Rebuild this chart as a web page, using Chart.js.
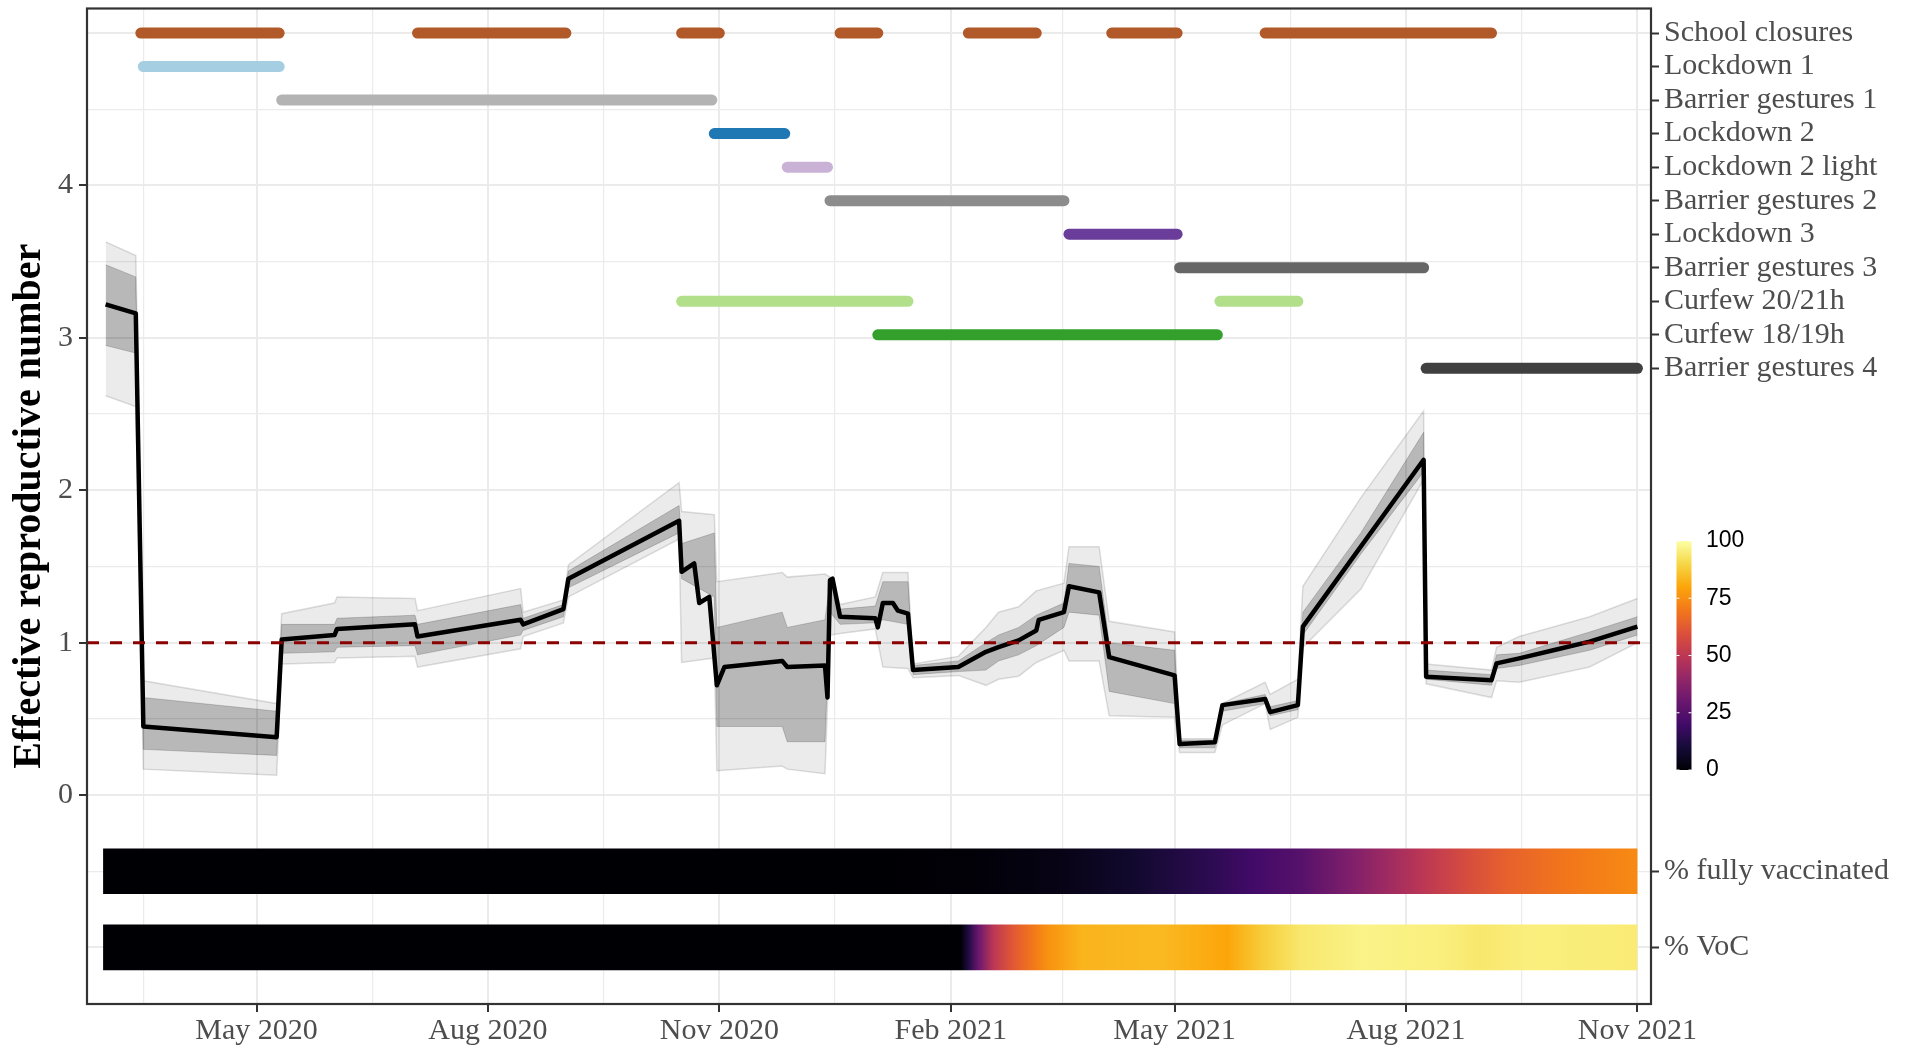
<!DOCTYPE html>
<html><head><meta charset="utf-8">
<script src="https://cdn.jsdelivr.net/npm/chart.js@4.4.0/dist/chart.umd.min.js"></script>
<style>html,body{margin:0;padding:0;background:#fff;}#wrap{width:1915px;height:1049px;}</style>
</head><body><div id="wrap"><canvas id="c" width="1915" height="1049"></canvas></div>
<script>
// ---------- DATA ----------
const rtDates = ['2020-03-02','2020-03-14','2020-03-17','2020-05-09','2020-05-11','2020-06-01','2020-06-02','2020-07-03','2020-07-04','2020-08-14','2020-08-15','2020-08-31','2020-09-02','2020-10-16','2020-10-17','2020-10-22','2020-10-24','2020-10-28','2020-10-31','2020-11-03','2020-11-26','2020-11-28','2020-12-13','2020-12-14','2020-12-15','2020-12-16','2020-12-19','2021-01-02','2021-01-03','2021-01-05','2021-01-09','2021-01-11','2021-01-15','2021-01-17','2021-02-04','2021-02-15','2021-02-20','2021-02-28','2021-03-07','2021-03-08','2021-03-18','2021-03-20','2021-04-01','2021-04-05','2021-05-01','2021-05-03','2021-05-17','2021-05-20','2021-06-06','2021-06-08','2021-06-19','2021-06-21','2021-08-08','2021-08-09','2021-09-04','2021-09-06','2021-09-15','2021-09-29','2021-10-13','2021-11-01'];
const rtMedian = [3.22,3.16,0.45,0.38,1.02,1.05,1.09,1.12,1.04,1.15,1.12,1.22,1.42,1.80,1.465,1.52,1.26,1.30,0.72,0.84,0.88,0.84,0.85,0.64,1.41,1.42,1.17,1.16,1.10,1.26,1.26,1.21,1.19,0.82,0.84,0.94,0.97,1.015,1.08,1.15,1.20,1.37,1.33,0.905,0.785,0.335,0.346,0.59,0.63,0.544,0.59,1.105,2.20,0.776,0.754,0.864,0.897,0.952,1.007,1.105];

// envelope of the simulation ensemble (outer = min/max, inner = dense core)
const envDates = ['2020-03-02','2020-03-14','2020-03-17','2020-05-09','2020-05-11','2020-06-01','2020-06-02','2020-07-03','2020-07-04','2020-08-14','2020-08-15','2020-08-31','2020-09-02','2020-10-16','2020-10-17','2020-10-30','2020-10-31','2020-11-26','2020-11-28','2020-12-13','2020-12-15','2020-12-19','2021-01-02','2021-01-05','2021-01-15','2021-01-17','2021-02-04','2021-02-15','2021-02-20','2021-02-28','2021-03-07','2021-03-18','2021-03-20','2021-04-01','2021-04-05','2021-05-01','2021-05-03','2021-05-17','2021-05-20','2021-06-06','2021-06-08','2021-06-19','2021-06-21','2021-07-14','2021-08-08','2021-08-09','2021-09-04','2021-09-06','2021-09-15','2021-10-13','2021-11-01'];
const envOuterHi = [3.63,3.54,0.75,0.60,1.19,1.26,1.30,1.29,1.21,1.355,1.20,1.28,1.51,2.05,1.86,1.84,1.40,1.46,1.43,1.45,1.43,1.25,1.30,1.46,1.46,0.86,0.91,1.10,1.20,1.235,1.34,1.39,1.63,1.63,1.14,1.07,0.37,0.37,0.60,0.74,0.66,0.76,1.37,1.95,2.52,0.86,0.82,0.97,1.04,1.17,1.29];
const envOuterLo = [2.62,2.55,0.17,0.13,0.86,0.87,0.90,0.91,0.84,0.96,1.04,1.13,1.30,1.68,0.87,0.90,0.16,0.19,0.17,0.14,1.05,1.06,1.09,0.84,0.83,0.77,0.785,0.72,0.76,0.78,0.87,0.95,0.88,0.88,0.52,0.51,0.28,0.28,0.46,0.60,0.43,0.51,0.97,1.35,2.07,0.73,0.64,0.75,0.74,0.84,1.00];
const envInnerHi = [3.48,3.40,0.64,0.55,1.12,1.12,1.16,1.18,1.12,1.25,1.16,1.25,1.47,1.90,1.65,1.72,1.10,1.20,1.10,1.15,1.40,1.22,1.24,1.40,1.40,0.85,0.88,1.00,1.05,1.10,1.18,1.26,1.52,1.50,1.00,0.95,0.36,0.36,0.60,0.66,0.58,0.62,1.20,1.72,2.38,0.82,0.79,0.92,0.93,1.07,1.17];
const envInnerLo = [2.95,2.90,0.30,0.26,0.93,0.94,0.97,0.98,0.92,1.05,1.08,1.17,1.36,1.72,1.42,1.30,0.45,0.45,0.35,0.35,1.20,1.12,1.13,1.15,1.12,0.79,0.81,0.82,0.88,0.92,0.98,1.10,1.20,1.18,0.68,0.60,0.31,0.31,0.55,0.60,0.52,0.56,1.05,1.58,2.12,0.76,0.72,0.83,0.85,0.95,1.05];

// interventions (start, end)
const schoolClosures = [['2020-03-16','2020-05-10'],['2020-07-04','2020-09-01'],['2020-10-17','2020-11-01'],['2020-12-19','2021-01-03'],['2021-02-08','2021-03-07'],['2021-04-06','2021-05-02'],['2021-06-06','2021-09-04']];
const lockdown1 = [['2020-03-17','2020-05-10']];
const barrierGestures1 = [['2020-05-11','2020-10-29']];
const lockdown2 = [['2020-10-30','2020-11-27']];
const lockdown2light = [['2020-11-28','2020-12-14']];
const barrierGestures2 = [['2020-12-15','2021-03-18']];
const lockdown3 = [['2021-03-20','2021-05-02']];
const barrierGestures3 = [['2021-05-03','2021-08-08']];
const curfew2021 = [['2020-10-17','2021-01-15'],['2021-05-19','2021-06-19']];
const curfew1819 = [['2021-01-03','2021-05-18']];
const barrierGestures4 = [['2021-08-09','2021-11-01']];
const npiLabels = ['School closures','Lockdown 1','Barrier gestures 1','Lockdown 2','Lockdown 2 light','Barrier gestures 2','Lockdown 3','Barrier gestures 3','Curfew 20/21h','Curfew 18/19h','Barrier gestures 4'];
const npiPeriods = [schoolClosures,lockdown1,barrierGestures1,lockdown2,lockdown2light,barrierGestures2,lockdown3,barrierGestures3,curfew2021,curfew1819,barrierGestures4];
const npiColors = ['#B15928','#A6CEE3','#B3B3B3','#1F78B4','#CAB2D6','#8C8C8C','#6A3D9A','#666666','#B2DF8A','#33A02C','#404040'];

// heat strips (%)
const vaccDates = ['2020-03-01','2021-01-10','2021-02-15','2021-03-15','2021-04-15','2021-05-15','2021-06-01','2021-06-20','2021-07-10','2021-07-25','2021-08-08','2021-08-25','2021-09-10','2021-10-01','2021-11-01'];
const vaccPct   = [0,0,1,3,8,15,20,25,35,43,50,58,64,69,74];
const vocDates = ['2020-03-01','2021-02-05','2021-02-08','2021-02-12','2021-02-18','2021-02-26','2021-03-06','2021-03-12','2021-03-25','2021-04-25','2021-05-22','2021-06-05','2021-06-20','2021-07-15','2021-08-15','2021-08-30','2021-09-20','2021-11-01'];
const vocPct   = [0,0,12,30,50,62,70,76,83,84,80,88,94,97,96,94,96,95];
const stripLabels = ['% fully vaccinated','% VoC'];

const xTickDates  = ['2020-02-01','2020-05-01','2020-08-01','2020-11-01','2021-02-01','2021-05-01','2021-08-01','2021-11-01'];
const xTickLabels = ['','May 2020','Aug 2020','Nov 2020','Feb 2021','May 2021','Aug 2021','Nov 2021'];
const yTickLabels = ['0','1','2','3','4'];
const legendTicks = [0,25,50,75,100];

// ---------- HELPERS ----------
function dnum(s){const p=s.split('-').map(Number);return Date.UTC(p[0],p[1]-1,p[2])/86400000;}
const X0 = dnum('2020-05-01');
const xMin = X0 - 67.4, xMax = X0 + 554.4;
const yMin = -1.371, yMax = 5.161;
const rowY = i => +(5 - 0.22*i).toFixed(2);
const stripY = [-0.5, -1];

const INF = ['#000004','#160b39','#420a68','#6a176e','#932667','#bc3754','#dd513a','#f37819','#fca50a','#f6d746','#fcffa4'];
function h2r(h){return [1,3,5].map(k=>parseInt(h.slice(k,k+2),16));}
function inferno(t){t=Math.max(0,Math.min(1,t));const s=t*10;const i=Math.min(9,Math.floor(s));const f=s-i;const a=h2r(INF[i]),b=h2r(INF[i+1]);return 'rgb('+a.map((v,k)=>Math.round(v+(b[k]-v)*f)).join(',')+')';}

function heatDataset(dates,pct,yv){
  return {
    type:'line', order:6,
    data: dates.map(d=>({x:dnum(d),y:yv})),
    borderWidth: ctx=>{const ys=ctx.chart.scales.y;return ys?Math.abs(ys.getPixelForValue(yv+0.15)-ys.getPixelForValue(yv-0.15)):45;},
    borderColor: ctx=>{const ch=ctx.chart;const xs=ch.scales.x;if(!xs||!ch.chartArea)return '#000';
      const x0=xs.getPixelForValue(dnum(dates[0])),x1=xs.getPixelForValue(dnum(dates[dates.length-1]));
      if(!isFinite(x0)||!isFinite(x1)||x1<=x0)return '#000';
      const g=ch.ctx.createLinearGradient(x0,0,x1,0);
      dates.forEach((d,i)=>{g.addColorStop(Math.max(0,Math.min(1,(xs.getPixelForValue(dnum(d))-x0)/(x1-x0))),inferno(pct[i]/100));});
      return g;},
    borderCapStyle:'butt', pointRadius:0, tension:0
  };
}

const datasets = [];
datasets.push({type:'line',order:0,data:[{x:xMin,y:1},{x:xMax,y:1}],borderColor:'#8B0000',borderWidth:3,borderDash:[12,11],pointRadius:0});
datasets.push({type:'line',order:1,data:rtDates.map((d,i)=>({x:dnum(d),y:rtMedian[i]})),borderColor:'#000',borderWidth:4.5,pointRadius:0,tension:0,borderJoinStyle:'round'});
datasets.push({type:'line',order:3,data:envDates.map((d,i)=>({x:dnum(d),y:envInnerHi[i]})),borderColor:'rgba(0,0,0,0.18)',borderWidth:1,pointRadius:0,fill:'+1',backgroundColor:'rgba(0,0,0,0.22)'});
datasets.push({type:'line',order:3,data:envDates.map((d,i)=>({x:dnum(d),y:envInnerLo[i]})),borderColor:'rgba(0,0,0,0.18)',borderWidth:1,pointRadius:0});
datasets.push({type:'line',order:4,data:envDates.map((d,i)=>({x:dnum(d),y:envOuterHi[i]})),borderColor:'rgba(0,0,0,0.13)',borderWidth:1.5,pointRadius:0,fill:'+1',backgroundColor:'rgba(0,0,0,0.08)'});
datasets.push({type:'line',order:4,data:envDates.map((d,i)=>({x:dnum(d),y:envOuterLo[i]})),borderColor:'rgba(0,0,0,0.13)',borderWidth:1.5,pointRadius:0});
npiPeriods.forEach((periods,i)=>{
  const yv=rowY(i);const pts=[];
  periods.forEach(p=>{pts.push({x:dnum(p[0]),y:yv});pts.push({x:dnum(p[1]),y:yv});pts.push({x:dnum(p[1])+0.5,y:null});});
  datasets.push({type:'line',order:2,data:pts,borderColor:npiColors[i],borderWidth:11,borderCapStyle:'round',pointRadius:0,spanGaps:false});
});
datasets.push(heatDataset(vaccDates,vaccPct,stripY[0]));
datasets.push(heatDataset(vocDates,vocPct,stripY[1]));

const rightTickVals = npiLabels.map((_,i)=>rowY(i)).concat(stripY);
const rightTickLabs = npiLabels.concat(stripLabels);

const serif = 'Liberation Serif, Times New Roman, serif';
const GRID = '#EBEBEB';
function zeroPad(s){s.paddingTop=0;s.paddingBottom=0;s.paddingLeft=0;s.paddingRight=0;}

const framePlugin = {id:'frame',afterDatasetsDraw(chart){const a=chart.chartArea,c=chart.ctx;c.save();c.strokeStyle='#333333';c.lineWidth=2.2;c.strokeRect(a.left,a.top,a.right-a.left,a.bottom-a.top);c.restore();}};
const colorbarPlugin = {id:'colorbar',afterDraw(chart){
  const c=chart.ctx;const x=1676.5,w=15,top=541,bot=770;
  c.save();
  const g=c.createLinearGradient(0,bot,0,top);
  for(let k=0;k<=20;k++){g.addColorStop(k/20,inferno(k/20));}
  c.fillStyle=g;c.fillRect(x,top,w,bot-top);
  c.font='23px "Liberation Sans", Arial, sans-serif';c.fillStyle='#000';c.textBaseline='middle';c.textAlign='left';
  legendTicks.forEach(v=>{const yy=bot-(bot-top)*v/100;
    c.strokeStyle='#fff';c.lineWidth=1;c.beginPath();c.moveTo(x,yy);c.lineTo(x+3,yy);c.moveTo(x+w-3,yy);c.lineTo(x+w,yy);c.stroke();
    c.fillText(String(v),1706,yy);});
  c.restore();}};

const chart = new Chart(document.getElementById('c'),{
  type:'line',
  data:{datasets},
  plugins:[framePlugin,colorbarPlugin],
  options:{
    responsive:false,animation:false,
    layout:{autoPadding:false,padding:{top:8.5,left:0,right:0,bottom:0}},
    plugins:{legend:{display:false},tooltip:{enabled:false},title:{display:false}},
    scales:{
      x:{type:'linear',min:xMin,max:xMax,
        afterBuildTicks:s=>{const t=[];const v=xTickDates.map(dnum);
          v.forEach((d,i)=>{t.push({value:d});if(i<v.length-1)t.push({value:(d+v[i+1])/2});});
          s.ticks=t.filter(o=>o.value>=xMin&&o.value<=xMax);},
        afterFit:s=>{s.height=45;zeroPad(s);},
        border:{display:false},
        grid:{color:GRID,lineWidth:c=>{const i=xTickDates.map(dnum).findIndex(d=>Math.abs(d-c.tick.value)<0.01);return i>=0?2:1.2;},
          tickLength:8,tickWidth:2,tickColor:c=>{const i=xTickDates.map(dnum).findIndex(d=>Math.abs(d-c.tick.value)<0.01);return i>=0?'#333333':'rgba(0,0,0,0)';}},
        ticks:{autoSkip:false,maxRotation:0,padding:1,color:'#4D4D4D',font:{family:serif,size:30},
          callback:v=>{const i=xTickDates.map(dnum).findIndex(d=>Math.abs(d-v)<0.01);return i>=0?xTickLabels[i]:'';}}
      },
      y:{type:'linear',position:'left',min:yMin,max:yMax,
        afterBuildTicks:s=>{const t=[];for(let k=-2;k<=10;k++)t.push({value:k/2});s.ticks=t;},
        afterFit:s=>{s.width=87;zeroPad(s);},
        border:{display:false},
        grid:{color:GRID,lineWidth:c=>Number.isInteger(c.tick.value)?2:1.2,tickLength:8,tickWidth:2,
          tickColor:c=>(Number.isInteger(c.tick.value)&&c.tick.value>=0&&c.tick.value<=4)?'#333333':'rgba(0,0,0,0)'},
        ticks:{autoSkip:false,padding:6,color:'#4D4D4D',font:{family:serif,size:30},
          callback:v=>(Number.isInteger(v)&&v>=0&&v<=4)?yTickLabels[v]:''},
        title:{display:true,text:'Effective reproductive number',color:'#000',font:{family:serif,size:40,weight:'bold'},padding:{top:6,bottom:0}}
      },
      y2:{type:'linear',position:'right',min:yMin,max:yMax,
        afterBuildTicks:s=>{s.ticks=rightTickVals.map(v=>({value:v}));},
        afterFit:s=>{s.width=1915-1651;zeroPad(s);},
        border:{display:false},
        grid:{drawOnChartArea:false,tickLength:8,tickWidth:2,tickColor:'#333333'},
        ticks:{autoSkip:false,padding:5,color:'#4D4D4D',font:{family:serif,size:30,lineHeight:1},
          callback:v=>{const i=rightTickVals.findIndex(r=>Math.abs(r-v)<1e-6);return i>=0?rightTickLabs[i]:'';}}
      }
    }
  }
});
chart.update();
</script></body></html>
